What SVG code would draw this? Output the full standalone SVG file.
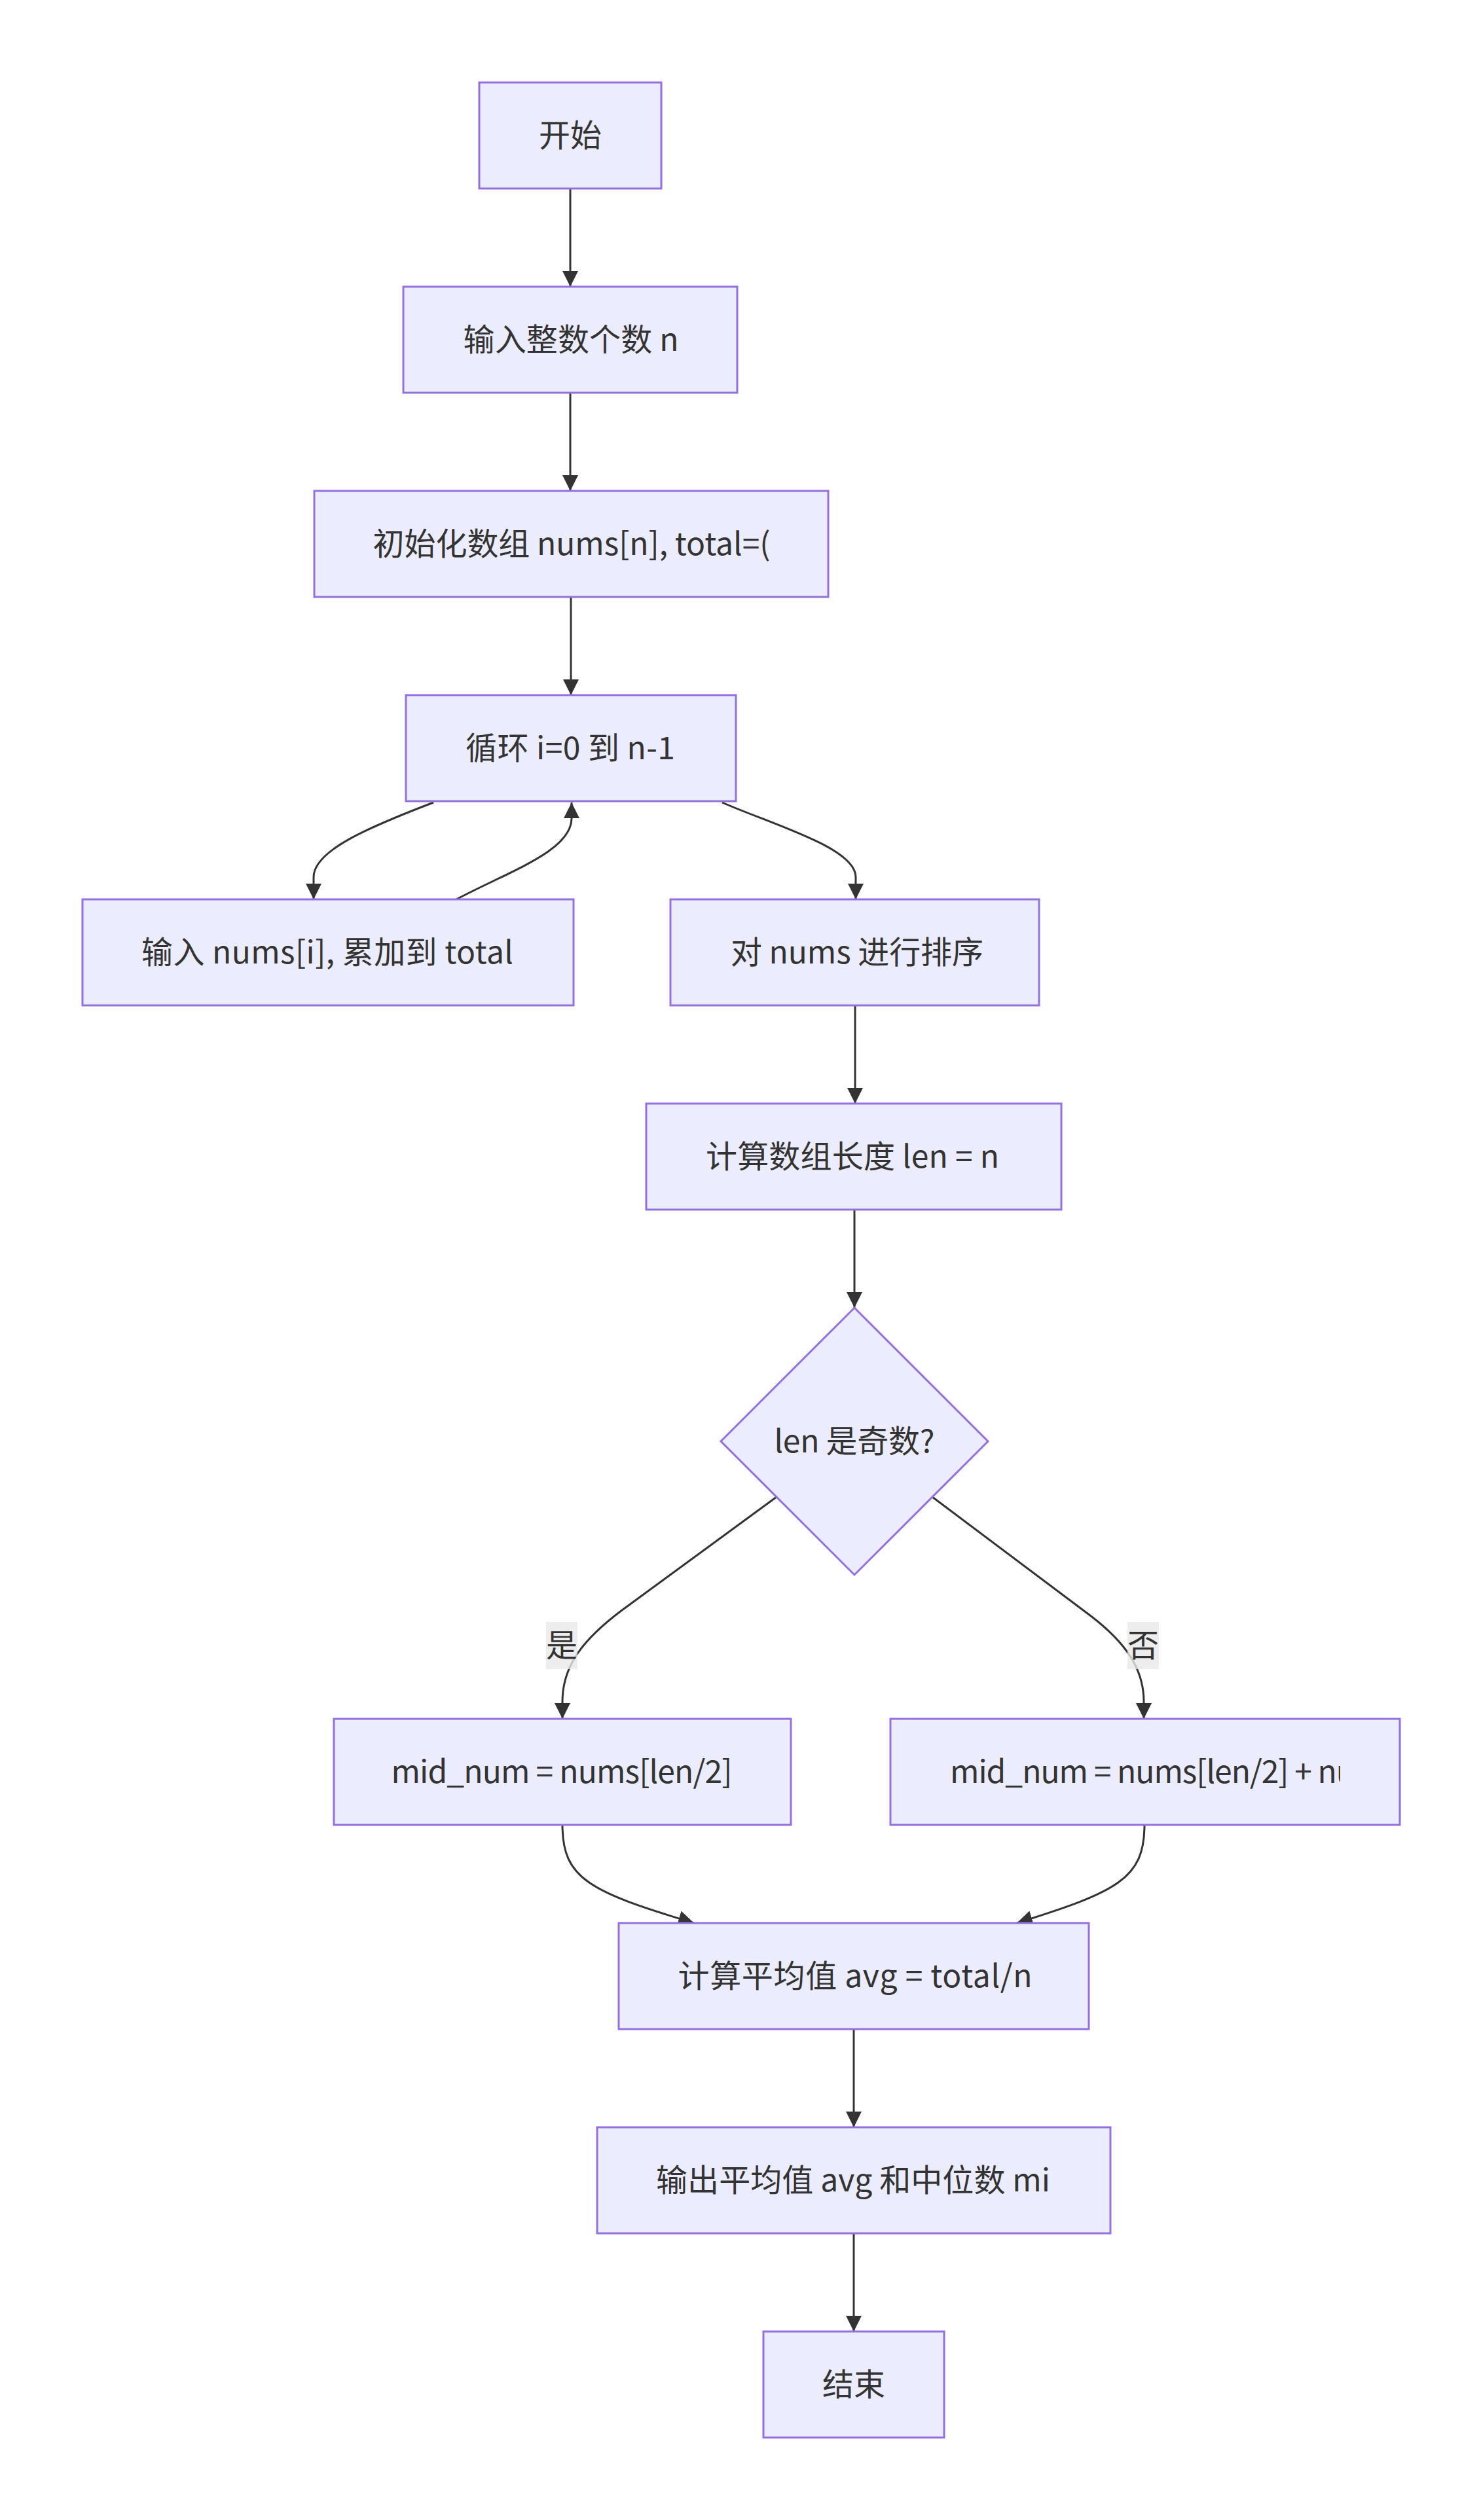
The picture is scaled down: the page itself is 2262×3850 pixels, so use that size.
<svg xmlns="http://www.w3.org/2000/svg" width="2262" height="3850" viewBox="0 0 2262 3850">
<style>
.node rect, .node polygon { fill: #ECECFF; stroke: #9370DB; stroke-width: 3; }
.node text, .lbl text { font-family: "Noto Sans CJK SC", "Noto Sans", sans-serif; font-size: 48px; fill: #333333; text-anchor: middle; }
.edges path { fill: none; stroke: #333333; stroke-width: 3; marker-end: url(#arrow); }
.lbl rect { fill: #e8e8e8; fill-opacity: 0.8; }
</style>
<defs>
<marker id="arrow" viewBox="0 0 10 10" refX="10" refY="5" markerWidth="24" markerHeight="24" markerUnits="userSpaceOnUse" orient="auto">
<path d="M0,0 L10,5 L0,10 z" fill="#333333"/>
</marker>
<clipPath id="clipNo"><rect x="1360" y="2626" width="687" height="162"/></clipPath>
</defs>
<rect x="0" y="0" width="2262" height="3850" fill="#ffffff"/>
<g id="edges" class="edges">
<path d="M871,288 L871,438"/>
<path d="M871,600 L871,750"/>
<path d="M872,912 L872,1062"/>
<path d="M662,1226 C560,1265 479,1300 479,1340 L479,1374"/>
<path d="M697,1374 C780,1330 873,1300 873,1250 L873,1226"/>
<path d="M1103,1226 C1180,1260 1307,1295 1307,1340 L1307,1374"/>
<path d="M1306,1536 L1306,1686"/>
<path d="M1305,1848 L1305,1998"/>
<path d="M1186,2287 L950,2460 C890,2505 859,2545 859,2600 L859,2626"/>
<path d="M1424,2287 L1665,2468 C1720,2510 1747,2550 1747,2600 L1747,2626"/>
<path d="M859,2788 C859,2870 900,2890 1060,2938"/>
<path d="M1748,2788 C1748,2870 1707,2890 1553,2938"/>
<path d="M1304,3100 L1304,3250"/>
<path d="M1304,3412 L1304,3562"/>
</g>
<g id="edge-labels">
<g id="label-yes" class="lbl"><rect x="834" y="2478" width="48" height="72"/><text x="858" y="2531">是</text></g>
<g id="label-no" class="lbl"><rect x="1722" y="2478" width="48" height="72"/><text x="1746" y="2531">否</text></g>
</g>
<g id="start" class="node"><rect x="732" y="126" width="278" height="162"/><text x="871" y="224">开始</text></g>
<g id="inputN" class="node"><rect x="616" y="438" width="510" height="162"/><text x="872" y="536" textLength="329" lengthAdjust="spacing">输入整数个数 n</text></g>
<g id="init" class="node"><rect x="480" y="750" width="785" height="162"/><text x="873" y="848" textLength="607" lengthAdjust="spacing">初始化数组 nums[n], total=(</text></g>
<g id="loop" class="node"><rect x="620" y="1062" width="504" height="162"/><text x="871" y="1160" textLength="320" lengthAdjust="spacing">循环 i=0 到 n-1</text></g>
<g id="inputNums" class="node"><rect x="126" y="1374" width="750" height="162"/><text x="500" y="1472" textLength="568" lengthAdjust="spacing">输入 nums[i], 累加到 total</text></g>
<g id="sort" class="node"><rect x="1024" y="1374" width="563" height="162"/><text x="1309" y="1472" textLength="386" lengthAdjust="spacing">对 nums 进行排序</text></g>
<g id="len" class="node"><rect x="987" y="1686" width="634" height="162"/><text x="1302" y="1784" textLength="448" lengthAdjust="spacing">计算数组长度 len = n</text></g>
<g id="odd" class="node"><polygon points="1305,1998 1509,2202 1305,2406 1101,2202"/><text x="1305" y="2219" textLength="245" lengthAdjust="spacing">len 是奇数?</text></g>
<g id="midOdd" class="node"><rect x="510" y="2626" width="698" height="162"/><text x="858" y="2724" textLength="521" lengthAdjust="spacing">mid_num = nums[len/2]</text></g>
<g id="midEven" class="node"><rect x="1360" y="2626" width="778" height="162"/><text x="1451" y="2724" style="text-anchor:start" textLength="619" lengthAdjust="spacing" clip-path="url(#clipNo)">mid_num = nums[len/2] + nu</text></g>
<g id="avg" class="node"><rect x="945" y="2938" width="718" height="162"/><text x="1306" y="3036" textLength="541" lengthAdjust="spacing">计算平均值 avg = total/n</text></g>
<g id="output" class="node"><rect x="912" y="3250" width="784" height="162"/><text x="1303" y="3348" textLength="602" lengthAdjust="spacing">输出平均值 avg 和中位数 mi</text></g>
<g id="end" class="node"><rect x="1166" y="3562" width="276" height="162"/><text x="1304" y="3660">结束</text></g>
</svg>
